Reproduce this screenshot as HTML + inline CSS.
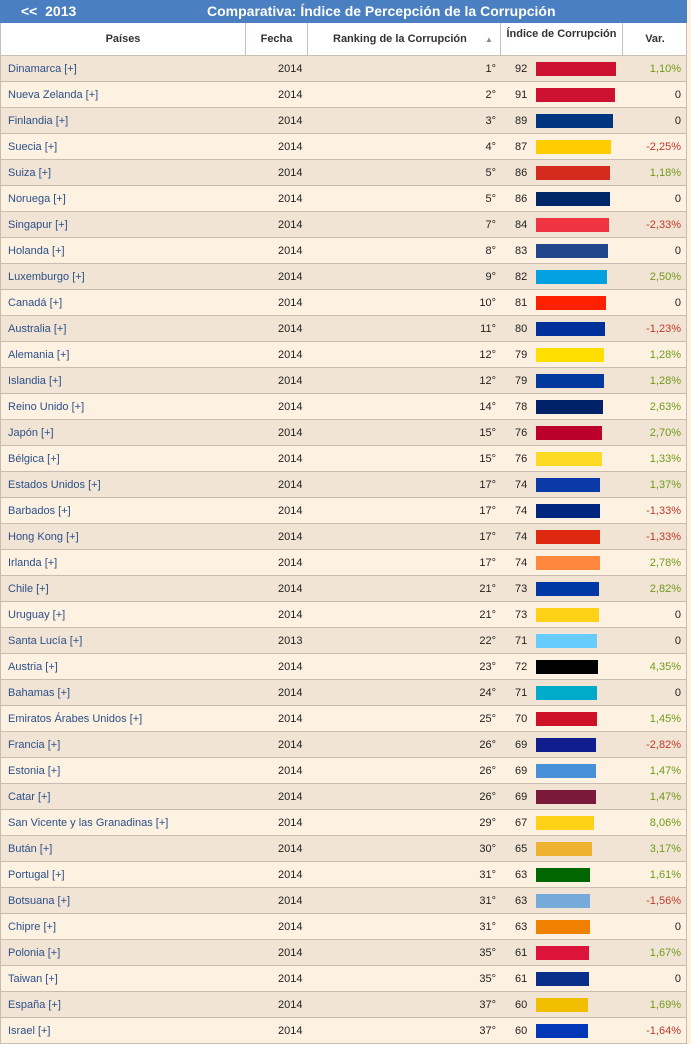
<!DOCTYPE html>
<html><head><meta charset="utf-8">
<style>
*{box-sizing:border-box;margin:0;padding:0}
body{width:691px;height:1044px;overflow:hidden;background:#fdf1e1;font-family:"Liberation Sans",Arial,sans-serif;font-size:11px;color:#222;position:relative}
#title{position:absolute;left:0;top:0;width:687px;height:23px;background:#4a7fc1;color:#fff;font-weight:bold;font-size:14px}
#title .back{position:absolute;left:21px;top:3px}
#title .t{position:absolute;left:207px;top:3px}
#hdr{position:absolute;left:0;top:23px;width:687px;height:33px;background:#fff;border:1px solid #c8c0b4;border-top:none}
.hc{position:absolute;top:0;height:33px;border-right:1px solid #c8c0b4;font-weight:bold;font-size:11px;color:#333;text-align:center}
.row{position:absolute;left:0;width:687px;height:26px;border-bottom:1px solid #c6bcb0;border-left:1px solid #c6bcb0;border-right:1px solid #c6bcb0}
.row span{position:absolute;top:7px}
.name{left:7px;color:#2b4f8a}
.year{left:277px}
.rank{right:190px}
.val{left:514px}
.bar{position:absolute;left:535px;top:6px;height:14px}
.var{right:5px}
</style></head><body>
<div id="title"><span class="back">&lt;&lt;&nbsp; 2013</span><span class="t">Comparativa: Índice de Percepción de la Corrupción</span></div>
<div id="hdr">
<div class="hc" style="left:0;width:245px;line-height:33px">Países</div>
<div class="hc" style="left:245px;width:62px;line-height:33px">Fecha</div>
<div class="hc" style="left:307px;width:193px;line-height:33px"><span style="position:absolute;left:25px">Ranking de la Corrupción</span><span style="position:absolute;left:177px;font-size:8px;color:#888">▲</span></div>
<div class="hc" style="left:500px;width:122px;line-height:22px">Índice de Corrupción</div>
<div class="hc" style="left:622px;width:64px;line-height:33px;border-right:none">Var.</div>
</div>
<div id="rows"></div>
<script>
const countries=["Dinamarca","Nueva Zelanda","Finlandia","Suecia","Suiza","Noruega","Singapur","Holanda","Luxemburgo","Canadá","Australia","Alemania","Islandia","Reino Unido","Japón","Bélgica","Estados Unidos","Barbados","Hong Kong","Irlanda","Chile","Uruguay","Santa Lucía","Austria","Bahamas","Emiratos Árabes Unidos","Francia","Estonia","Catar","San Vicente y las Granadinas","Bután","Portugal","Botsuana","Chipre","Polonia","Taiwan","España","Israel"];
const years=[2014,2014,2014,2014,2014,2014,2014,2014,2014,2014,2014,2014,2014,2014,2014,2014,2014,2014,2014,2014,2014,2014,2013,2014,2014,2014,2014,2014,2014,2014,2014,2014,2014,2014,2014,2014,2014,2014];
const ranks=[1,2,3,4,5,5,7,8,9,10,11,12,12,14,15,15,17,17,17,17,21,21,22,23,24,25,26,26,26,29,30,31,31,31,35,35,37,37];
const scores=[92,91,89,87,86,86,84,83,82,81,80,79,79,78,76,76,74,74,74,74,73,73,71,72,71,70,69,69,69,67,65,63,63,63,61,61,60,60];
const vars=["1,10%","0","0","-2,25%","1,18%","0","-2,33%","0","2,50%","0","-1,23%","1,28%","1,28%","2,63%","2,70%","1,33%","1,37%","-1,33%","-1,33%","2,78%","2,82%","0","0","4,35%","0","1,45%","-2,82%","1,47%","1,47%","8,06%","3,17%","1,61%","-1,56%","0","1,67%","0","1,69%","-1,64%"];
const colors=["#cc1230","#cc1230","#003580","#fecc00","#d52b1e","#002868","#ef3340","#21468b","#00a1de","#ff2000","#00309a","#ffde00","#02399c","#012169","#bc002d","#fdda24","#0a3aa8","#00267f","#de2910","#ff883e","#0039a6","#fcd116","#66ccff","#000000","#00abc9","#ce1126","#0f1e8c","#4891d9","#7a1a3a","#fcd116","#efb130","#006600","#75aadb","#f08000","#dc143c","#0a2f8a","#f1bf00","#0038b8"];
const root=document.getElementById('rows');
countries.forEach((c,i)=>{
  const r=document.createElement('div');
  
  
  r.className='row';
  r.style.top=(56+i*26)+'px';
  r.style.background=i%2===0?'#f1e4d4':'#fdf1e1';
  const v=vars[i];
  const vc=v==='0'?'#222':(v[0]==='-'?'#c0392b':'#6f9a1a');
  r.innerHTML='<span class="name">'+c+' [+]</span><span class="year">'+years[i]+'</span><span class="rank">'+ranks[i]+'°</span><span class="val">'+scores[i]+'</span><div class="bar" style="width:'+(scores[i]*0.865)+'px;background:'+colors[i]+'"></div><span class="var" style="color:'+vc+'">'+v+'</span>';
  const n=r.querySelector('.name');
  
  
  const b=r.querySelector('.bar');
  
  
  root.appendChild(r);
});
</script>
</body></html>
